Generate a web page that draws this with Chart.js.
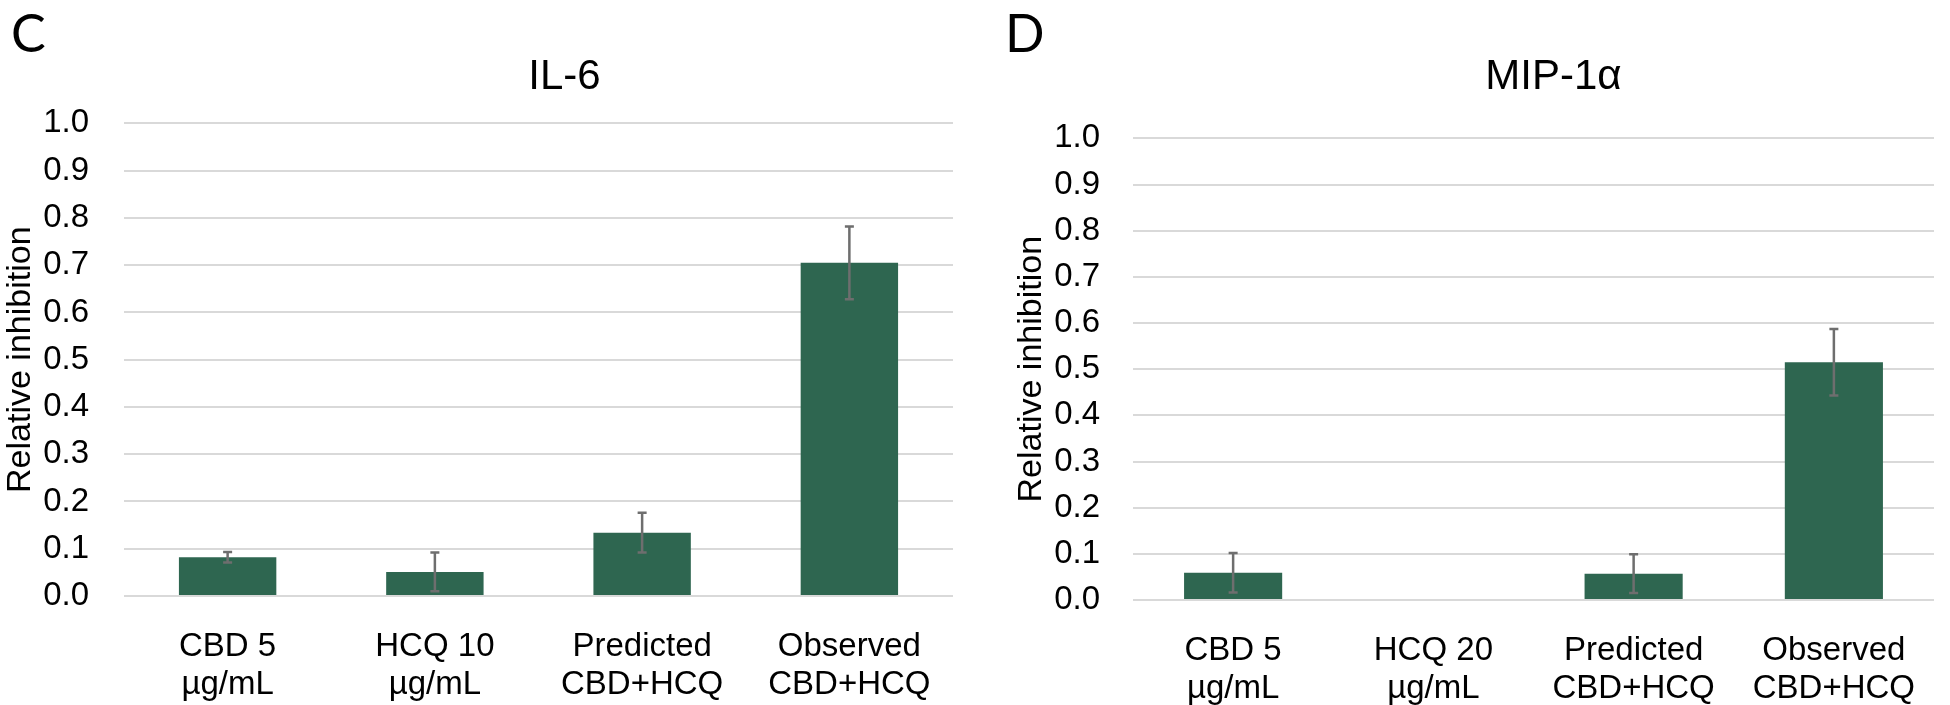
<!DOCTYPE html>
<html lang="en">
<head>
    <meta charset="UTF-8">
    <title>Relative inhibition - IL-6 and MIP-1α</title>
    <script src="https://cdn.jsdelivr.net/npm/chart.js"></script>
    <style>
        html, body { margin: 0; padding: 0; background: #fff; overflow: hidden; }
        .panel { position: absolute; top: 0; height: 705px; }
        #panelC { left: 0; width: 975px; }
        #panelD { left: 1000px; width: 950px; }
        .letter {
            position: absolute; top: 6px;
            font-family: Lato, "Open Sans", sans-serif; font-size: 52px; line-height: 1;
            color: #000;
        }
    </style>
</head>
<body>

    <div class="panel" id="panelC"><canvas id="chartC"></canvas></div>
    <div class="panel" id="panelD"><canvas id="chartD"></canvas></div>
    <div class="letter" style="left: 11px;">C</div>
    <div class="letter" style="left: 1005px;">D</div>

    <script>
        // values (mean and +/- error)
        var il6Labels = [['CBD 5', 'µg/mL'], ['HCQ 10', 'µg/mL'], ['Predicted', 'CBD+HCQ'], ['Observed', 'CBD+HCQ']];
        var il6Values = [0.082, 0.051, 0.134, 0.705];
        var il6Errors = [0.011, 0.041, 0.042, 0.077];

        var mipLabels = [['CBD 5', 'µg/mL'], ['HCQ 20', 'µg/mL'], ['Predicted', 'CBD+HCQ'], ['Observed', 'CBD+HCQ']];
        var mipValues = [0.059, 0, 0.057, 0.515];
        var mipErrors = [0.043, 0, 0.042, 0.072];

        var barColor = '#2e6650';
        var textColor = '#000';
        Chart.defaults.font.family = '"Liberation Sans", Arial, sans-serif';
        Chart.defaults.color = textColor;

        // draws the error bars on top of the bars
        var errorBars = {
            id: 'errorBars',
            afterDatasetsDraw: function (chart) {
                var ctx = chart.ctx;
                var ds = chart.data.datasets[0];
                var meta = chart.getDatasetMeta(0);
                var yScale = chart.scales.y;
                ctx.save();
                ctx.strokeStyle = '#6e6e6e';
                ctx.lineWidth = 2.5;
                meta.data.forEach(function (bar, i) {
                    var e = ds.errors[i];
                    if (!e) return;
                    var top = yScale.getPixelForValue(ds.data[i] + e);
                    var bot = yScale.getPixelForValue(ds.data[i] - e);
                    ctx.beginPath();
                    ctx.moveTo(bar.x, top);
                    ctx.lineTo(bar.x, bot);
                    ctx.moveTo(bar.x - 4.5, top);
                    ctx.lineTo(bar.x + 4.5, top);
                    ctx.moveTo(bar.x - 4.5, bot);
                    ctx.lineTo(bar.x + 4.5, bot);
                    ctx.stroke();
                });
                ctx.restore();
            }
        };

        // the title in the figure sits a bit right of the plot centre
        var titleShift = {
            id: 'titleShift',
            afterLayout: function (chart, args, opts) {
                var t = chart.titleBlock;
                if (!t) return;
                t.left += opts.dx;
                t.right += opts.dx;
            }
        };

        function makeChart(id, title, labels, values, errors, opt) {
            var ctx = document.getElementById(id).getContext('2d');
            return new Chart(ctx, {
                type: 'bar',
                data: {
                    labels: labels,
                    datasets: [{
                        data: values,
                        errors: errors,
                        backgroundColor: barColor,
                        categoryPercentage: 1,
                        barPercentage: opt.barPct
                    }]
                },
                plugins: [errorBars, titleShift],
                options: {
                    responsive: true,
                    maintainAspectRatio: false,
                    animation: false,
                    layout: { padding: { left: 0, right: opt.padRight, top: 0, bottom: 0 } },
                    plugins: {
                        legend: { display: false },
                        tooltip: { enabled: false },
                        titleShift: { dx: opt.titleDx },
                        title: {
                            display: true,
                            text: title,
                            fullSize: false,
                            color: textColor,
                            font: { size: 42, weight: 'normal' },
                            padding: { top: 52, bottom: opt.titleBottom }
                        }
                    },
                    scales: {
                        x: {
                            grid: { display: false },
                            border: { display: false },
                            ticks: {
                                color: textColor,
                                font: { size: 33, lineHeight: 1.15 },
                                padding: 24,
                                maxRotation: 0,
                                autoSkip: false
                            },
                            afterFit: function (s) { s.height = opt.xHeight; }
                        },
                        y: {
                            min: 0,
                            max: 1,
                            border: { display: false },
                            grid: { color: '#d9d9d9', lineWidth: 2, drawTicks: false },
                            ticks: {
                                stepSize: 0.1,
                                color: textColor,
                                font: { size: 33 },
                                padding: opt.tickPad,
                                callback: function (v) { return v.toFixed(1); }
                            },
                            title: {
                                display: true,
                                text: 'Relative inhibition',
                                color: textColor,
                                font: { size: 34 },
                                padding: { top: opt.yTitlePad, bottom: 0 }
                            },
                            afterFit: function (s) { s.width = opt.yWidth; }
                        }
                    }
                }
            });
        }

        makeChart('chartC', 'IL-6', il6Labels, il6Values, il6Errors,
            { barPct: 0.47, padRight: 22, titleBottom: 21, xHeight: 109, tickPad: 35, yTitlePad: 0, yWidth: 124, titleDx: 26 });
        makeChart('chartD', 'MIP-1α', mipLabels, mipValues, mipErrors,
            { barPct: 0.49, padRight: 16, titleBottom: 36, xHeight: 105, tickPad: 33, yTitlePad: 11, yWidth: 133, titleDx: 20 });
    </script>
</body>
</html>
